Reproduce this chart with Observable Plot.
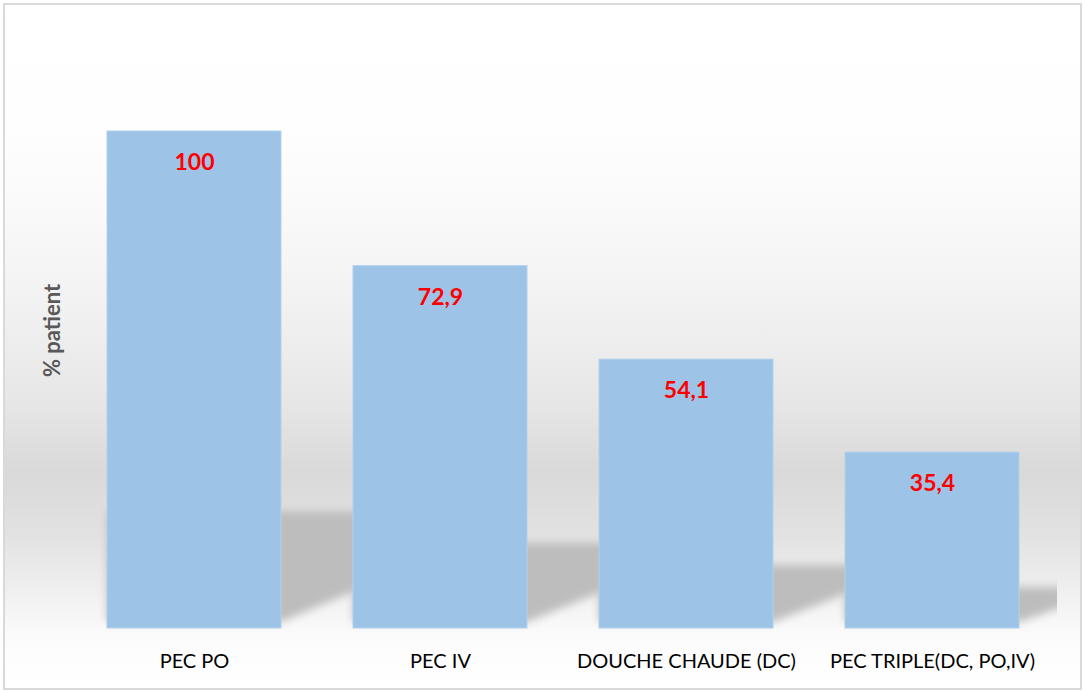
<!DOCTYPE html>
<html><head><meta charset="utf-8">
<script src="https://cdn.jsdelivr.net/npm/d3@7"></script>
<script src="https://cdn.jsdelivr.net/npm/@observablehq/plot@0.6"></script>
<style>
body{margin:0;background:#fff;}
#wrap{position:relative;width:1083px;height:691px;overflow:hidden;background:#fff;}
#bg{position:absolute;left:3px;top:3px;width:1075px;height:683px;border:2px solid #d9d9d9;
background:linear-gradient(to bottom,#ffffff 0px,#fefefe 120px,#fafafa 200px,#f2f2f2 297px,#e6e6e6 400px,#d9d9d9 467px,#e2e2e2 530px,#eeeeee 580px,#f7f7f7 615px,#fbfbfb 630px,#fdfdfd 650px,#ffffff 683px);}
#chart{position:absolute;left:0;top:0;}
</style></head><body>
<div id="wrap"><div id="bg"></div><div id="chart"></div></div>
<script>
const categories = ["PEC PO", "PEC IV", "DOUCHE CHAUDE (DC)", "PEC TRIPLE(DC, PO,IV)"];
const values = [100, 72.9, 54.1, 35.4];
const valueLabels = ["100", "72,9", "54,1", "35,4"];
const yLabel = "% patient";

const data = categories.map((c, i) => ({category: c, value: values[i], label: valueLabels[i]}));

function shadows(index, scales, vals, dimensions, context) {
  const x = scales.x, y = scales.y;
  const bw = x.bandwidth();
  const doc = (context && context.document) || document;
  const ns = "http://www.w3.org/2000/svg";
  const g = doc.createElementNS(ns, "g");
  const right = dimensions.width - dimensions.marginRight + 2;
  const defs = doc.createElementNS(ns, "defs");
  defs.innerHTML = '<filter id="shblur" x="-50%" y="-50%" width="200%" height="200%"><feGaussianBlur stdDeviation="4"/></filter>' +
    '<clipPath id="shclip"><rect x="0" y="0" width="' + right + '" height="' + dimensions.height + '"/></clipPath>';
  g.appendChild(defs);
  const inner = doc.createElementNS(ns, "g");
  inner.setAttribute("clip-path", "url(#shclip)");
  g.appendChild(inner);
  const base = y(0);
  for (const d of data) {
    const xL = x(d.category), xR = xL + bw;
    const hs = (base - y(d.value)) * 0.235;
    const top = base - hs;
    const ext = hs * 1.3;
    const pts = [[xL, top], [xR + ext, top], [xR + ext, base - hs * 0.6], [xR, base - 6], [xL, base - 6]];
    const p = doc.createElementNS(ns, "polygon");
    p.setAttribute("points", pts.map(q => q.join(",")).join(" "));
    p.setAttribute("fill", "#bdbdbd");
    p.setAttribute("filter", "url(#shblur)");
    inner.appendChild(p);
  }
  return g;
}

const chart = Plot.plot({
  width: 1083,
  height: 691,
  marginLeft: 70,
  marginRight: 28,
  marginTop: 131,
  marginBottom: 63,
  style: {background: "transparent", fontFamily: "Lato, 'Open Sans', sans-serif", fontSize: "20px", color: "black"},
  x: {domain: categories, paddingInner: 0.293, paddingOuter: 0.1465, label: null, tickSize: 0, tickPadding: 25},
  y: {domain: [0, 100], axis: null},
  marks: [
    shadows,
    Plot.barY(data, {x: "category", y: "value", fill: "#9dc3e6", stroke: "#b3d1ec", strokeWidth: 1}),
    Plot.text(data, {x: "category", y: "value", text: "label", dy: 31, fill: "#ff0000", fontSize: 23, fontWeight: "bold"}),
    Plot.text([yLabel], {frameAnchor: "left", textAnchor: "middle", rotate: -90, dx: -18, dy: -49.5, fill: "#595959", fontSize: 22, fontWeight: "bold"})
  ]
});
document.getElementById("chart").appendChild(chart);
</script>
</body></html>
